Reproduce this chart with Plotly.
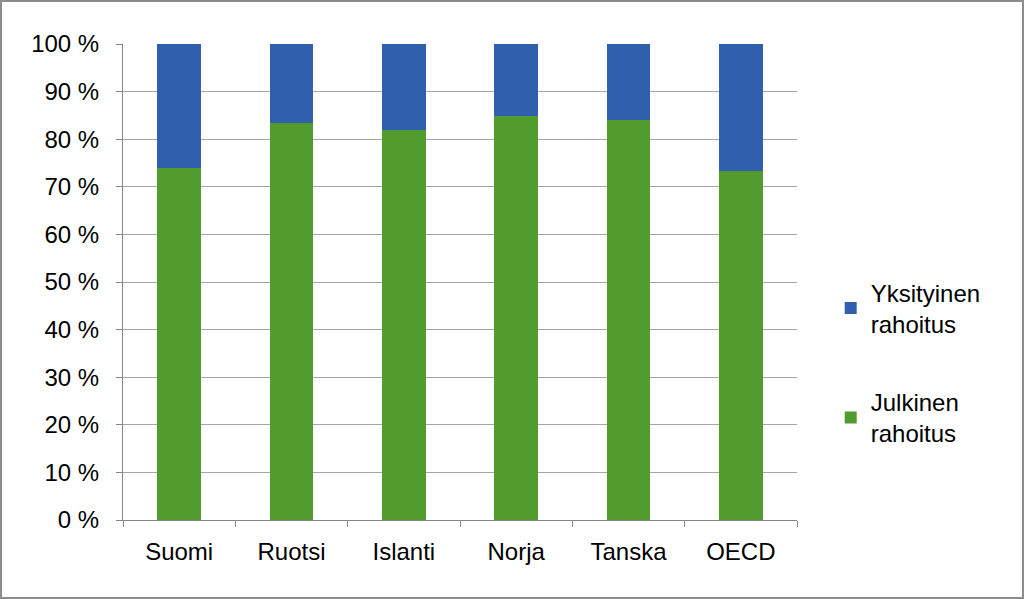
import plotly.graph_objects as go

categories = ["Suomi", "Ruotsi", "Islanti", "Norja", "Tanska", "OECD"]
julkinen = [73.9, 83.5, 81.9, 84.9, 84.1, 73.3]
yksityinen = [26.1, 16.5, 18.1, 15.1, 15.9, 26.7]
y_ticks = [0, 10, 20, 30, 40, 50, 60, 70, 80, 90, 100]
y_tick_labels = ["0 %", "10 %", "20 %", "30 %", "40 %", "50 %",
                 "60 %", "70 %", "80 %", "90 %", "100 %"]

FONT = "Liberation Sans, Arial, sans-serif"
W, H = 1024, 599
L, R, T, B = 123, 227, 44, 79

fig = go.Figure()
fig.add_trace(go.Bar(x=categories, y=julkinen, name="Julkinen<br>rahoitus",
                     marker=dict(color="#529B2F", line=dict(width=0)),
                     legendgroup="j", legendrank=2))
fig.add_trace(go.Bar(x=categories, y=yksityinen, name="Yksityinen<br>rahoitus",
                     marker=dict(color="#2F5FAD", line=dict(width=0)),
                     legendgroup="y", legendrank=1))

pw = W - L - R
ph = H - T - B
fig.add_shape(type="rect", xref="paper", yref="paper",
              x0=-(L - 1) / pw, x1=1 + (R - 1) / pw,
              y0=-(B - 1) / ph, y1=1 + (T - 1) / ph,
              line=dict(color="#8c8c8c", width=2), layer="above")

fig.update_layout(
    width=W, height=H,
    margin=dict(l=L, r=R, t=T, b=B, pad=0),
    barmode="stack",
    bargap=0.61,
    plot_bgcolor="white",
    paper_bgcolor="white",
    font=dict(family=FONT, size=24, color="#000000"),
    legend=dict(x=1.05, y=0.33, xanchor="left", yanchor="middle",
                traceorder="grouped", tracegroupgap=44,
                font=dict(size=24), itemwidth=30),
    xaxis=dict(showline=True, linecolor="#868686", linewidth=1,
               ticks="outside", tickson="boundaries", ticklen=6,
               tickcolor="#868686", showgrid=False, ticklabelstandoff=10),
    yaxis=dict(range=[0, 100], tickvals=y_ticks, ticktext=y_tick_labels,
               showline=True, linecolor="#868686", linewidth=1,
               ticks="outside", ticklen=6, tickcolor="#868686",
               showgrid=True, gridcolor="#a6a6a6", gridwidth=1,
               zeroline=False, ticklabelstandoff=12),
)

fig.write_html("out.html")
